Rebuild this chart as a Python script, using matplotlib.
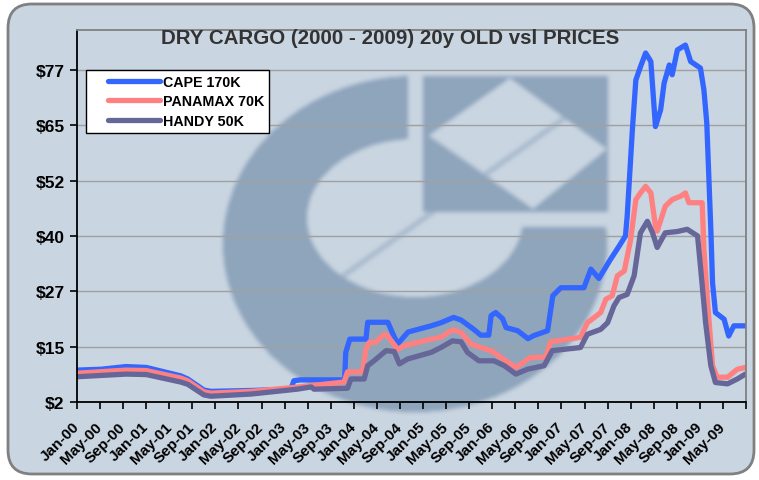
import numpy as np
import matplotlib
matplotlib.use('Agg')
import matplotlib.pyplot as plt
import matplotlib.transforms as mtransforms
from matplotlib.patches import FancyBboxPatch
from matplotlib.path import Path
from matplotlib.legend_handler import HandlerLine2D

plt.rcParams['font.family'] = ['Liberation Sans', 'DejaVu Sans']

# months counted from Jan-2000, prices in $ million
cape_month = [0, 4.2, 8.5, 12, 18, 19.2, 22, 23.2, 30.2, 37.1, 37.6, 38.8, 46.4, 46.6, 47.3,
              50.1, 50.4, 53.9, 54.8, 55.6, 57.4, 61.4, 63.1, 65.3, 66.6, 68.8, 70, 71.4,
              71.8, 72.6, 73.8, 74.4, 76.4, 78.2, 79.2, 81.6, 82.5, 83.9, 87.9, 89.1, 90.5,
              92.5, 94, 95.1, 95.4, 96.3, 96.9, 97.7, 98.6, 99.5, 100.3, 101.2, 101.8,
              102.7, 103.2, 104.1, 105.5, 106.4, 108.1, 108.7, 109.2, 109.9, 110.2, 110.7,
              112.2, 113, 113.9, 115.9]
cape_price = [9.2, 9.4, 10.0, 9.8, 7.9, 7.2, 4.7, 4.4, 4.6, 4.9, 6.8, 7.0, 7.0, 13.2, 16.2,
              16.2, 20.0, 20.0, 17.3, 15.1, 17.8, 19.2, 19.9, 21.1, 20.5, 18.4, 17.1, 17.1,
              21.5, 22.2, 20.8, 18.8, 18.1, 16.3, 17.0, 18.1, 26.0, 27.8, 27.8, 32.0, 29.9,
              34.2, 37.2, 39.5, 44.0, 63.5, 74.7, 77.7, 80.8, 78.9, 64.2, 68.0, 74.0,
              78.1, 75.9, 81.5, 82.6, 78.9, 77.4, 72.5, 65.0, 41.0, 28.9, 22.2,
              20.7, 16.9, 19.2, 19.2]

panamax_month = [0, 8.5, 12, 18, 19.2, 22, 23.2, 30.2, 37.7, 46.3, 46.9, 49.5, 50.1, 50.7,
                 51.8, 53.3, 53.8, 55.6, 56.7, 61.4, 63.1, 65.1, 66.6, 68.3, 70, 71.8, 73.5,
                 76.1, 78.7, 81.3, 82.1, 87.3, 88.5, 90.8, 91.7, 92.8, 93.7, 94.9, 96, 96.9,
                 97.7, 98.6, 99.5, 100.3, 100.6, 102, 103.2, 104.7, 105.5, 106.1, 108.4,
                 108.7, 109.3, 110.2, 111, 112.8, 114.5, 115.9]
panamax_price = [8.5, 9.2, 9.1, 7.4, 6.8, 4.3, 4.0, 4.4, 5.3, 6.5, 8.8, 8.8, 13.9, 15.5,
                 15.5, 17.3, 17.0, 13.9, 14.7, 16.2, 16.6, 18.3, 17.7, 15.1, 14.3, 13.6, 12.1,
                 9.8, 12.1, 12.1, 15.6, 16.6, 19.9, 22.2, 25.2, 26.0, 30.5, 31.6, 38.7, 47.7,
                 49.2, 50.7, 49.2, 41.7, 40.6, 46.2, 47.7, 48.5, 49.2, 47.0, 47.0,
                 36.5, 25.2, 10.2, 7.6, 7.6, 9.4, 9.8]

handy_month = [0, 8.5, 12, 18, 19.2, 22, 23.2, 30.2, 38.2, 40.6, 41.1, 46.9, 47.5, 49.8,
               50.4, 51.5, 53.6, 55, 55.9, 57.3, 61.4, 63.1, 65.1, 66.6, 67.7, 69.7, 72.3,
               74.1, 76.1, 78.1, 81, 82.4, 87.3, 88.5, 90.8, 92, 93.1, 94, 95.4, 96.6, 97.7,
               98.9, 99.8, 100.6, 102, 104.1, 105.8, 107.6, 108.1, 109, 109.9, 110.7, 112.8,
               114.5, 115.9]
handy_price = [7.7, 8.3, 8.2, 6.5, 6.0, 3.6, 3.3, 3.8, 4.9, 5.4, 4.9, 5.1, 7.2, 7.2,
               10.2, 11.3, 13.6, 13.4, 10.6, 11.7, 13.2, 14.3, 15.8, 15.6, 13.2, 11.3, 11.3,
               10.2, 8.3, 9.4, 10.2, 13.6, 14.3, 17.3, 18.4, 19.9, 23.7, 25.6, 26.3, 30.5, 40.2,
               42.8, 40.2, 36.9, 40.2, 40.5, 41.0, 39.5, 32.7, 19.9, 10.2, 6.4, 6.1,
               7.2, 8.3]

series_names = ['CAPE 170K', 'PANAMAX 70K', 'HANDY 50K']
series_colors = ['#3366ff', '#ff8080', '#666699']

month_names = ['Jan', 'May', 'Sep']
tick_months = list(range(0, 117, 4))
tick_labels = [f"{month_names[(m // 4) % 3]}-{m // 12:02d}" for m in range(0, 113, 4)] + ['']

y_ticks = [2, 14.5, 27, 39.5, 52, 64.5, 77]
y_labels = ['$2', '$15', '$27', '$40', '$52', '$65', '$77']

W, H = 759, 481
fig = plt.figure(figsize=(W / 100, H / 100), dpi=100)
fig.patch.set_facecolor('white')

# background panel with a soft logo watermark (pixel coordinates)
bg = fig.add_axes([0, 0, 1, 1], zorder=0)
bg.set_xlim(0, W)
bg.set_ylim(H, 0)
bg.axis('off')

yy, xx = np.mgrid[0:H, 0:W] + 0.5
outer = ((xx - 415) / 192) ** 2 + ((yy - 245) / 168) ** 2 <= 1
inner = ((xx - 415) / 108) ** 2 + ((yy - 219) / 79) ** 2 <= 1
ring = outer & ~inner & ~((xx > 408) & (yy < 228)) & (xx < 608)
dark = ring.astype(float)
dark[(xx >= 423) & (xx <= 608) & (yy >= 77) & (yy <= 213)] = 1.0
diamond = Path([(428, 137), (510, 79), (607, 150), (533, 210)])
inside = diamond.contains_points(np.c_[xx.ravel(), yy.ravel()]).reshape(H, W)
dark[inside] = 0.0
# diagonal strokes of the logo
p0, p1 = np.array([343, 277]), np.array([573, 113])
v = p1 - p0
t = np.clip(((xx - p0[0]) * v[0] + (yy - p0[1]) * v[1]) / (v @ v), 0, 1)
dist = np.hypot(xx - (p0[0] + t * v[0]), yy - (p0[1] + t * v[1]))
dark[dist < 2.5] = np.maximum(dark[dist < 2.5], 0.55)
q0, q1 = np.array([430, 139]), np.array([492, 182])
v = q1 - q0
t = np.clip(((xx - q0[0]) * v[0] + (yy - q0[1]) * v[1]) / (v @ v), 0, 1)
dist = np.hypot(xx - (q0[0] + t * v[0]), yy - (q0[1] + t * v[1]))
dark[(dist < 2.0) & (dark < 0.5)] = 0.45

k = np.ones(5) / 5
for _ in range(2):
    dark = np.apply_along_axis(lambda r: np.convolve(r, k, mode='same'), 1, dark)
    dark = np.apply_along_axis(lambda c: np.convolve(c, k, mode='same'), 0, dark)

base = np.array([201, 213, 225]) / 255
shade = np.array([143, 165, 188]) / 255
img = base * (1 - dark[..., None]) + shade * dark[..., None]

panel = FancyBboxPatch((8, 5), 746, 470, boxstyle='round,pad=0,rounding_size=24',
                       facecolor='none', edgecolor='#808080', linewidth=2, zorder=2)
bg.add_patch(panel)
im = bg.imshow(img, extent=(0, W, H, 0), interpolation='nearest', zorder=1)
im.set_clip_path(panel)

ax = fig.add_axes([77 / W, 1 - 403 / H, 669 / W, 372 / H], zorder=1)
ax.set_facecolor('none')

months = [cape_month, panamax_month, handy_month]
prices = [cape_price, panamax_price, handy_price]
lines = []
for m, p, name, c in zip(months, prices, series_names, series_colors):
    ln, = ax.plot(m, p, color=c, lw=3.8, label=name,
                  solid_joinstyle='round', solid_capstyle='round')
    lines.append(ln)

ax.set_xlim(0, 116)
ax.set_ylim(2, 86)
ax.set_yticks(y_ticks)
ax.set_yticklabels(y_labels, fontsize=12.5, fontweight='bold')
ax.set_xticks(tick_months)
ax.set_xticklabels(tick_labels, rotation=45, ha='right', va='center',
                   rotation_mode='anchor', fontsize=11, fontweight='bold')
shift = mtransforms.ScaledTranslation(-4 / 100, 0, fig.dpi_scale_trans)
for lab in ax.get_xticklabels():
    lab.set_transform(lab.get_transform() + shift)
ax.tick_params(axis='both', direction='out', length=5, width=1.2, color='black')
ax.tick_params(axis='x', pad=11)
ax.tick_params(axis='y', pad=4)
ax.yaxis.grid(True, color='#a0a0a0', linewidth=1)
ax.set_axisbelow(True)
for s in ['left', 'bottom']:
    ax.spines[s].set_color('black')
    ax.spines[s].set_linewidth(1.3)
for s in ['top', 'right']:
    ax.spines[s].set_color('#808080')
    ax.spines[s].set_linewidth(1.3)

leg = ax.legend(handles=lines, loc='upper left', bbox_to_anchor=(86 / W, 1 - 71 / H),
                bbox_transform=fig.transFigure, borderaxespad=0, fancybox=False,
                frameon=True, framealpha=1, facecolor='white', edgecolor='black',
                prop={'weight': 'bold', 'size': 10.3}, borderpad=0.35,
                handlelength=4.8, handletextpad=0.2, labelspacing=0.38,
                handler_map={ln: HandlerLine2D(xpad=1.2) for ln in lines})
leg.get_frame().set_linewidth(1)

fig.text(390 / W, 1 - 39 / H, 'DRY CARGO (2000 - 2009) 20y OLD vsl PRICES',
         ha='center', va='center', fontsize=14.8, fontweight='bold', color='#333333')

fig.savefig('out.png', dpi=100, facecolor=fig.get_facecolor())
